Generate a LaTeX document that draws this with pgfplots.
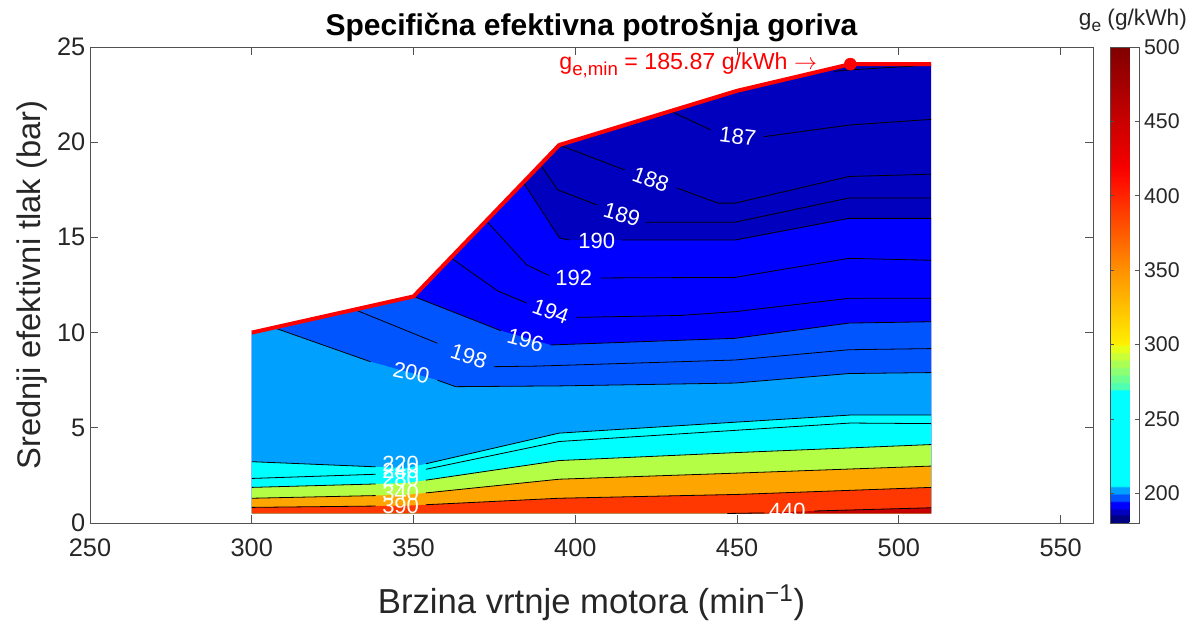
\documentclass[border=0pt]{standalone}
\usepackage{fontspec}
\setmainfont{Liberation Sans}
\usepackage{pgfplots}
\pgfplotsset{compat=1.18}
\definecolor{cdark}{RGB}{0,0,190}
\definecolor{cblue}{RGB}{0,0,255}
\definecolor{cmid}{RGB}{0,85,255}
\definecolor{clight}{RGB}{0,160,255}
\definecolor{ccyan}{RGB}{0,255,255}
\definecolor{cgreen}{RGB}{180,255,70}
\definecolor{corange}{RGB}{255,165,0}
\definecolor{cred}{RGB}{255,55,0}
\definecolor{cdred}{RGB}{200,0,0}
\definecolor{axgray}{RGB}{38,38,38}
\begin{document}
\begin{tikzpicture}
\begin{axis}[
  at={(67.5pt,75.75pt)}, anchor=south west,
  scale only axis, width=752.25pt, height=357pt,
  xmin=250, xmax=560, ymin=0, ymax=25,
  xtick={250,300,...,550}, ytick={0,5,...,25},
  tick align=inside, major tick length=6pt,
  axis line style={axgray!80, line width=0.6pt},
  every tick/.style={axgray!80, line width=0.6pt},
  tick label style={font=\fontsize{19}{21}\selectfont, text=axgray},
  /pgf/number format/assume math mode=true,
  xticklabel style={yshift=-8pt},
  xlabel={Brzina vrtnje motora (min\textsuperscript{−1})},
  ylabel={Srednji efektivni tlak (bar)},
  xlabel style={at={(axis description cs:0.5,0)}, anchor=center, yshift=-60pt, font=\fontsize{26}{28}\selectfont, text=axgray},
  ylabel style={at={(axis description cs:0,0.5)}, anchor=center, yshift=43.5pt, font=\fontsize{24.5}{26}\selectfont, text=axgray},
  title={Specifična efektivna potrošnja goriva},
  title style={at={(axis description cs:0.5,1)}, anchor=base, yshift=2.25pt, font=\fontsize{22.5}{24}\selectfont\bfseries},
  axis on top,
  colormap={ge}{rgb255(180pt)=(0,0,130); rgb255(185pt)=(0,0,130);
    rgb255(186pt)=(0,0,190); rgb255(189pt)=(0,0,190);
    rgb255(190pt)=(0,0,255); rgb255(194pt)=(0,0,255);
    rgb255(195pt)=(0,85,255); rgb255(199pt)=(0,85,255);
    rgb255(200pt)=(0,160,255); rgb255(204pt)=(0,160,255);
    rgb255(205pt)=(0,255,255); rgb255(269pt)=(0,255,255);
    rgb255(270pt)=(80,255,175); rgb255(274pt)=(80,255,175);
    rgb255(275pt)=(110,255,145); rgb255(279pt)=(110,255,145);
    rgb255(280pt)=(140,255,115); rgb255(284pt)=(140,255,115);
    rgb255(285pt)=(170,255,85); rgb255(289pt)=(170,255,85);
    rgb255(290pt)=(200,255,55); rgb255(294pt)=(200,255,55);
    rgb255(295pt)=(230,255,25); rgb255(299pt)=(230,255,25);
    rgb255(300pt)=(255,240,0); rgb255(350pt)=(255,145,0);
    rgb255(410pt)=(255,15,0); rgb255(420pt)=(245,0,0);
    rgb255(500pt)=(128,0,0)},
  point meta min=180, point meta max=500,
  colorbar,
  colorbar style={
    at={(parent axis.north east)}, anchor=north west, xshift=4.5pt,
    scale only axis, width=21.75pt, height=357pt,
    ytick={200,250,...,500},
    tick align=inside, major tick length=3pt,
    axis line style={axgray!80, line width=0.6pt},
    every tick/.style={axgray!80},
    yticklabel style={font=\fontsize{16}{18}\selectfont, text=axgray},
    /pgf/number format/assume math mode=true,
    title={g\raisebox{-0.45ex}{\fontsize{13}{14}\selectfont e} (g/kWh)},
    title style={at={(0.5,1)}, anchor=base, yshift=9.75pt, xshift=6pt, font=\fontsize{17}{19}\selectfont, text=axgray},
  },
]
% filled bands
\addplot[fill=cdark, draw=none] coordinates {(300,10) (350,11.9) (395,19.85) (450,22.7) (485,24.1) (510,24.1) (510,0.5) (300,0.5)} -- cycle;
\addplot[fill=cblue, draw=none] coordinates {(300,10) (350,11.9) (383.9,17.89) (395.1,14.97) (398.3,14.86) (449.4,14.86) (484.6,16.0) (510,16.0) (510,0.5) (300,0.5)} -- cycle;
\addplot[fill=cmid, draw=none] coordinates {(300,10) (350,11.9) (377,10.1) (392.4,9.35) (449.4,9.7) (484.6,10.5) (510,10.57) (510,0.5) (300,0.5)} -- cycle;
\addplot[fill=clight, draw=none] coordinates {(300,10) (306.8,10.26) (336.7,8.47) (357.4,7.5) (363,7.16) (395,7.2) (449.4,7.35) (484.6,7.85) (510,7.9) (510,0.5) (300,0.5)} -- cycle;
\addplot[fill=ccyan, draw=none] coordinates {(300,3.22) (348,2.88) (395,4.72) (485,5.67) (510,5.67) (510,0.5) (300,0.5)} -- cycle;
\addplot[fill=cgreen, draw=none] coordinates {(300,1.87) (348,2.1) (395,3.28) (450,3.7) (510,4.12) (510,0.5) (300,0.5)} -- cycle;
\addplot[fill=corange, draw=none] coordinates {(300,1.3) (348,1.48) (395,2.3) (450,2.62) (510,2.99) (510,0.5) (300,0.5)} -- cycle;
\addplot[fill=cred, draw=none] coordinates {(300,0.82) (348,0.91) (395,1.3) (450,1.5) (510,1.87) (510,0.5) (300,0.5)} -- cycle;
\addplot[fill=cdred, draw=none] coordinates {(447,0.5) (458.4,0.53) (473.9,0.63) (510,0.8) (510,0.5)} -- cycle;
% contour lines
\pgfplotsset{cl/.style={black, line width=0.6pt}}
\addplot[cl] coordinates {(480,23.72) (485,23.8) (505,24.0)};
\addplot[cl] coordinates {(429.6,21.62) (441.9,20.64)};
\addplot[cl] coordinates {(458.3,20.29) (484.7,20.9) (510,21.2)};
\addplot[cl] coordinates {(395.1,19.85) (415.3,18.54)};
\addplot[cl] coordinates {(431.3,17.6) (444.1,16.8) (449.4,16.8) (484.6,18.2) (510,18.32)};
\addplot[cl] coordinates {(389.2,18.83) (394.5,17.5) (406.8,16.7)};
\addplot[cl] coordinates {(421.7,15.8) (449.4,15.8) (484.6,17.07) (510,17.07)};
\addplot[cl] coordinates {(383.9,17.89) (395.1,14.97) (398.3,14.86)};
\addplot[cl] coordinates {(414.3,14.86) (449.4,14.86) (484.6,16.0) (510,16.0)};
\addplot[cl] coordinates {(372.7,15.83) (385,13.55) (391.9,13.0)};
\addplot[cl] coordinates {(407.8,12.87) (449.4,12.9) (484.6,13.9) (510,13.8)};
\addplot[cl] coordinates {(361.5,13.93) (375.9,12.2) (385,11.55)};
\addplot[cl] coordinates {(400.4,10.8) (432.4,10.9) (449.4,11.1) (484.6,11.8) (510,11.8)};
\addplot[cl] coordinates {(350,11.9) (377,10.1)};
\addplot[cl] coordinates {(392.4,9.35) (449.4,9.7) (484.6,10.5) (510,10.57)};
\addplot[cl] coordinates {(331.8,11.21) (357.4,9.44)};
\addplot[cl] coordinates {(374.8,8.21) (388,8.24) (449.4,8.56) (484.6,9.1) (510,9.16)};
\addplot[cl] coordinates {(306.8,10.26) (336.7,8.47)};
\addplot[cl] coordinates {(357.4,7.5) (363,7.16) (395,7.2) (449.4,7.35) (484.6,7.85) (510,7.9)};
\addplot[cl] coordinates {(300,3.22) (338.3,2.95)};
\addplot[cl] coordinates {(353.8,3.11) (395,4.72) (485,5.67) (510,5.67)};
\addplot[cl] coordinates {(300,2.34) (338.3,2.56)};
\addplot[cl] coordinates {(353.8,2.82) (395,4.28) (485,5.25) (510,5.22)};
\addplot[cl] coordinates {(300,1.87) (338.3,2.05)};
\addplot[cl] coordinates {(353.8,2.25) (395,3.28) (450,3.7) (510,4.12)};
\addplot[cl] coordinates {(300,1.3) (338.3,1.44)};
\addplot[cl] coordinates {(353.8,1.58) (395,2.3) (450,2.62) (510,2.99)};
\addplot[cl] coordinates {(300,0.82) (338.3,0.89)};
\addplot[cl] coordinates {(353.8,0.96) (395,1.3) (450,1.5) (510,1.87)};
\addplot[cl] coordinates {(447,0.5) (458.4,0.53)};
\addplot[cl] coordinates {(473.9,0.63) (510,0.8)};
% boundary and minimum
\addplot[red, line width=3pt, line join=round] coordinates {(300,10) (350,11.9) (395,19.85) (450,22.7) (485,24.1) (510,24.1)};
\addplot[only marks, mark=*, mark size=4.5pt, red] coordinates {(485,24.1)};
% labels
\begin{scope}[every node/.style={text=white, font=\fontsize{16.5}{18}\selectfont, inner sep=0pt}]
\node[rotate=-7] at (axis cs:450.2,20.3) {187};
\node[rotate=-20] at (axis cs:423.3,18.05) {188};
\node[rotate=-16] at (axis cs:414.4,16.2) {189};
\node at (axis cs:406.6,14.83) {190};
\node at (axis cs:399.5,12.85) {192};
\node[rotate=-20] at (axis cs:392.4,11.1) {194};
\node[rotate=-15] at (axis cs:384.6,9.6) {196};
\node[rotate=-18] at (axis cs:367.1,8.75) {198};
\node[rotate=-12] at (axis cs:349.3,7.9) {200};
\node at (axis cs:346,3.1) {220};
\node at (axis cs:346,2.75) {240};
\node at (axis cs:346,2.3) {280};
\node at (axis cs:346,1.6) {340};
\node at (axis cs:346,0.9) {390};
\node at (axis cs:465.5,0.62) {440};
\end{scope}
\node[anchor=base east, text=red, font=\fontsize{17.4}{19}\selectfont, inner sep=0pt] at (axis cs:474.8,23.8) {g\raisebox{-0.45ex}{\fontsize{14}{15}\selectfont e,min} = 185.87 g/kWh $\rightarrow$};
\end{axis}
\pgfresetboundingbox
\path (0,0) rectangle (894pt,468pt);
\end{tikzpicture}
\end{document}
